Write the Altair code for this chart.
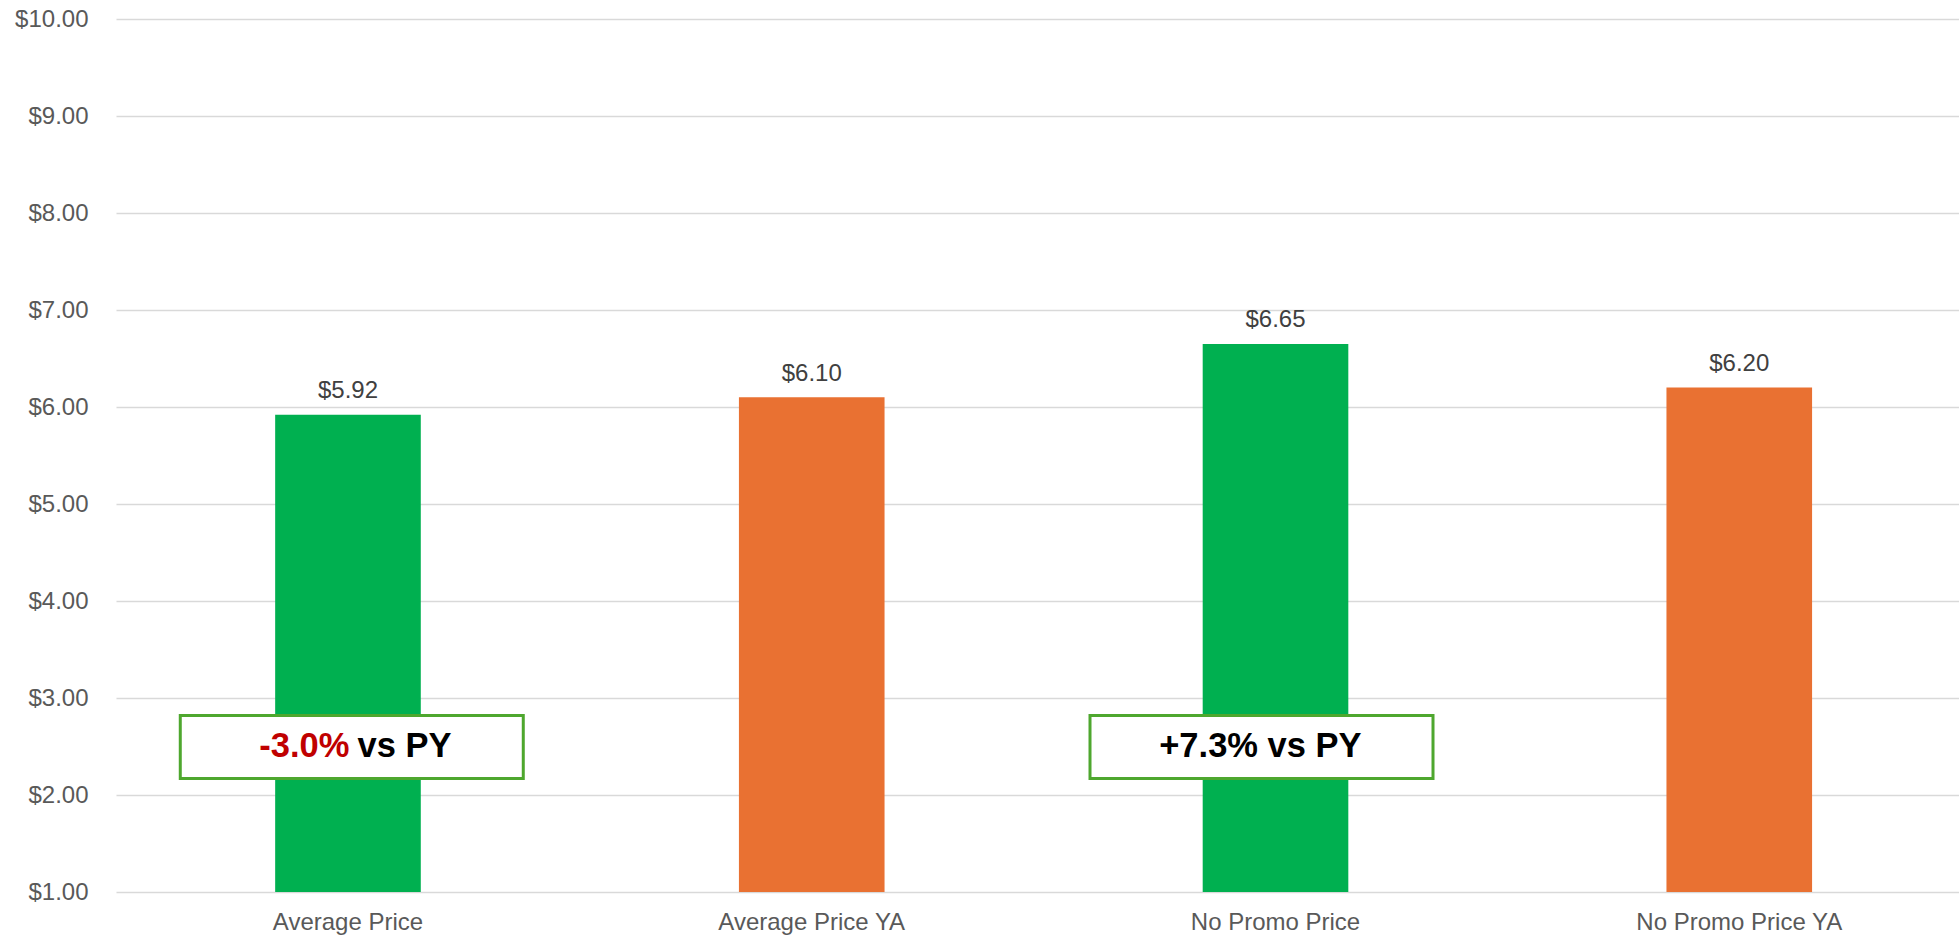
import altair as alt
import pandas as pd

# ---- data ----
categories = ["Average Price", "Average Price YA", "No Promo Price", "No Promo Price YA"]
prices = [5.92, 6.10, 6.65, 6.20]
periods = ["Current", "Year Ago", "Current", "Year Ago"]

ann_categories = ["Average Price", "No Promo Price"]
ann_changes = ["-3.0%", "+7.3%"]
ann_suffixes = ["vs PY", "vs PY"]
ann_box_low = [2.17, 2.17]
ann_box_high = [2.82, 2.82]
ann_text_y = [2.49, 2.49]

FONT = "Liberation Sans, Arial, sans-serif"
GREEN = "#00B050"
ORANGE = "#E97132"

bars_df = pd.DataFrame({"category": categories, "price": prices, "period": periods})
ann_df = pd.DataFrame({
    "category": ann_categories,
    "change": ann_changes,
    "suffix": ann_suffixes,
    "low": ann_box_low,
    "high": ann_box_high,
    "ty": ann_text_y,
})

x_scale = alt.Scale(domain=categories, paddingInner=0.686, paddingOuter=0.33, align=0.52)
x_axis = alt.Axis(title=None, labelAngle=0, labelFont=FONT, labelFontSize=24,
                  labelColor="#595959", labelPadding=18, ticks=False, tickSize=0,
                  domain=False, grid=False, labelLimit=500)
y_scale = alt.Scale(domain=[1, 10], zero=False, nice=False)
y_axis = alt.Axis(title=None, values=list(range(1, 11)), format="$.2f",
                  labelFont=FONT, labelFontSize=24, labelColor="#595959",
                  labelPadding=28, ticks=False, tickSize=0, domain=False,
                  grid=True, gridColor="#D9D9D9", gridWidth=1.5)

X = alt.X("category:N", sort=categories, scale=x_scale, axis=x_axis)

bars = alt.Chart(bars_df).mark_bar().encode(
    x=X,
    y=alt.Y("price:Q", scale=y_scale, axis=y_axis),
    y2=alt.datum(1),
    color=alt.Color("period:N", scale=alt.Scale(domain=["Current", "Year Ago"],
                                                range=[GREEN, ORANGE]), legend=None),
)

labels = alt.Chart(bars_df).mark_text(
    font=FONT, fontSize=24, color="#404040", baseline="alphabetic", dy=-16.6
).encode(
    x=X,
    y=alt.Y("price:Q", scale=y_scale),
    text=alt.Text("price:Q", format="$.2f"),
)

layers = [bars, labels]

# per-box pixel offsets: (box, change right edge, suffix left edge)
offsets = {"Average Price": (3.8, 1.5, 9.5), "No Promo Price": (-14, -17.5, -8)}

for cat in ann_categories:
    bdx, cdx, sdx = offsets[cat]
    base = alt.Chart(ann_df).transform_filter(alt.datum.category == cat)
    box = base.mark_bar(width=343, fill="white", stroke="#4EA72E",
                        strokeWidth=3, xOffset=bdx).encode(
        x=X,
        y=alt.Y("low:Q", scale=y_scale),
        y2="high:Q",
    )
    change = base.mark_text(font=FONT, fontSize=34.5, fontWeight="bold",
                            align="right", baseline="middle", dx=cdx).encode(
        x=X,
        y=alt.Y("ty:Q", scale=y_scale),
        text="change:N",
        color=alt.condition("datum.change[0] == '-'", alt.value("#C00000"),
                            alt.value("#000000")),
    )
    suffix = base.mark_text(font=FONT, fontSize=34.5, fontWeight="bold",
                            align="left", baseline="middle", dx=sdx,
                            color="#000000").encode(
        x=X,
        y=alt.Y("ty:Q", scale=y_scale),
        text="suffix:N",
    )
    layers += [box, change, suffix]

chart = alt.layer(*layers).properties(
    width=1843,
    height=873,
    autosize=alt.AutoSizeParams(type="none"),
    padding={"left": 116, "top": 19, "right": 0, "bottom": 44},
    background="white",
).configure_view(stroke=None)

chart.save("out.html", embed_options={"renderer": "svg", "actions": False})
